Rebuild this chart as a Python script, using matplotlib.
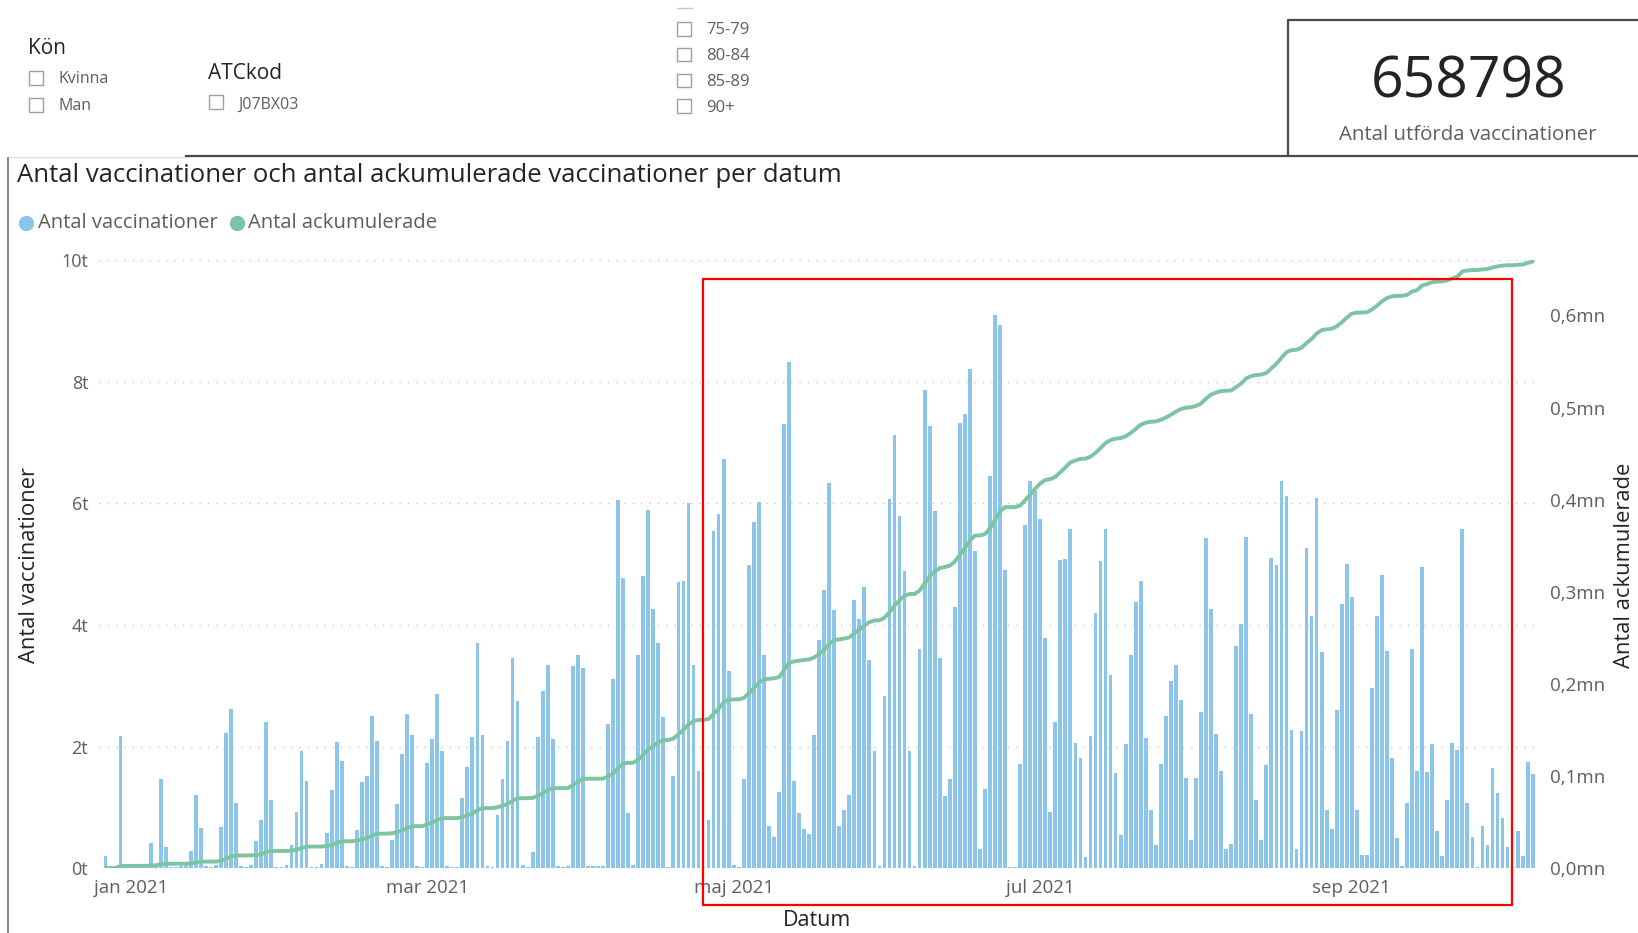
import numpy as np
import pandas as pd
import matplotlib
matplotlib.use('Agg')
import matplotlib.pyplot as plt
from matplotlib.lines import Line2D
from matplotlib.patches import Rectangle

plt.rcParams['font.family'] = ['Open Sans', 'DejaVu Sans']

# Daily vaccinations (thousands), one list per month
dec_2020 = [0.20, 0.02, 0.02, 2.17, 0.03]
jan_2021 = [0.03, 0.02, 0.02, 0.05, 0.42, 0.05, 1.46, 0.35, 0.02, 0.02, 0.03, 0.05, 0.28, 1.20, 0.66,
            0.03, 0.02, 0.05, 0.68, 2.22, 2.62, 1.07, 0.03, 0.02, 0.05, 0.44, 0.80, 2.40, 1.13, 0.02, 0.02]
feb_2021 = [0.05, 0.38, 0.93, 1.92, 1.44, 0.02, 0.02, 0.07, 0.58, 1.28, 2.08, 1.77, 0.03, 0.02,
            0.63, 1.42, 1.51, 2.51, 2.10, 0.03, 0.02, 0.47, 1.05, 1.88, 2.54, 2.19, 0.03, 0.02]
mar_2021 = [1.73, 2.13, 2.86, 1.92, 0.04, 0.02, 0.02, 1.15, 1.66, 2.16, 3.70, 2.19, 0.04, 0.02, 0.87,
            1.47, 2.10, 3.45, 2.75, 0.06, 0.02, 0.26, 2.15, 2.92, 3.35, 2.13, 0.03, 0.02, 0.04, 3.32, 3.50]
apr_2021 = [3.30, 0.04, 0.03, 0.03, 0.04, 2.37, 3.11, 6.05, 4.77, 0.91, 0.06, 3.50, 4.80, 5.89, 4.26,
            3.70, 2.48, 0.02, 1.52, 4.70, 4.72, 6.01, 3.34, 1.60, 0.02, 0.80, 5.54, 5.83, 6.73, 3.24]
may_2021 = [0.06, 0.02, 1.46, 4.99, 5.69, 6.03, 3.50, 0.69, 0.51, 1.25, 7.30, 8.32, 1.44, 0.91, 0.64,
            0.57, 2.19, 3.75, 4.58, 6.33, 4.24, 0.69, 0.95, 1.20, 4.41, 4.10, 4.63, 3.43, 1.92, 0.03, 2.84]
jun_2021 = [6.07, 7.13, 5.79, 4.88, 1.93, 0.04, 3.61, 7.86, 7.27, 5.87, 3.46, 1.18, 1.46, 4.30, 7.33,
            7.47, 8.21, 5.21, 0.31, 1.31, 6.45, 9.10, 8.93, 4.90, 0.02, 0.02, 1.71, 5.65, 6.36, 6.21]
jul_2021 = [5.74, 3.79, 0.93, 2.41, 5.07, 5.09, 5.58, 2.06, 1.81, 0.18, 2.17, 4.19, 5.05, 5.58, 3.17,
            1.57, 0.55, 2.04, 3.51, 4.37, 4.72, 2.14, 0.96, 0.38, 1.71, 2.51, 3.08, 3.35, 2.77, 1.48, 0.47]
aug_2021 = [1.48, 2.57, 5.43, 4.26, 2.21, 1.60, 0.31, 0.40, 3.66, 4.02, 5.45, 2.54, 1.13, 0.46, 1.69,
            5.10, 4.99, 6.36, 6.12, 2.27, 0.31, 2.26, 5.26, 4.15, 6.09, 3.55, 0.95, 0.64, 2.61, 4.34, 5.01]
sep_2021 = [4.46, 0.96, 0.22, 0.22, 2.97, 4.15, 4.82, 3.57, 1.82, 0.50, 0.03, 1.08, 3.61, 1.60, 4.96,
            1.59, 2.04, 0.62, 0.20, 1.13, 2.06, 1.95, 5.58, 1.08, 0.51, 0.02, 0.69, 0.38, 1.64, 1.24]
oct_2021 = [0.82, 0.35, 0.02, 0.62, 0.20, 1.75, 1.55]

start_date = '2020-12-27'
left_ticks = [0, 2000, 4000, 6000, 8000, 10000]
left_labels = ['0t', '2t', '4t', '6t', '8t', '10t']
right_ticks = [0, 100000, 200000, 300000, 400000, 500000, 600000]
right_labels = ['0,0mn', '0,1mn', '0,2mn', '0,3mn', '0,4mn', '0,5mn', '0,6mn']
month_ticks = ['2021-01-01', '2021-03-01', '2021-05-01', '2021-07-01', '2021-09-01']
month_labels = ['jan 2021', 'mar 2021', 'maj 2021', 'jul 2021', 'sep 2021']
total_text = '658798'

daily = np.array(dec_2020 + jan_2021 + feb_2021 + mar_2021 + apr_2021 + may_2021 + jun_2021
                 + jul_2021 + aug_2021 + sep_2021 + oct_2021) * 1000
cumulative = np.cumsum(daily)
dates = pd.date_range(start_date, periods=len(daily), freq='D')

BAR = '#8BC5EA'
LINE = '#7DC4A3'
DARK = '#252423'
GREY = '#605E5C'

W, H = 1568, 893  # coordinates below are measured on the reference


def fx(x):
    return x / W


def fy(y):
    return 1 - y / H


fig = plt.figure(figsize=(16.38, 9.33), dpi=100)
fig.patch.set_facecolor('white')

# ---- slicers ----
def checkbox(x, y):
    fig.add_artist(Rectangle((fx(x), fy(y + 13)), 13 / W, 13 / H, transform=fig.transFigure,
                             fill=False, edgecolor='#A19F9D', lw=1))

fig.text(fx(27), fy(46), 'Kön', fontsize=15, color=DARK, va='center')
checkbox(28, 68)
fig.text(fx(56), fy(76), 'Kvinna', fontsize=11.5, color=GREY, va='center')
checkbox(28, 94)
fig.text(fx(56), fy(101), 'Man', fontsize=11.5, color=GREY, va='center')

fig.text(fx(199), fy(70), 'ATCkod', fontsize=15, color=DARK, va='center')
checkbox(200, 91)
fig.text(fx(228), fy(100), 'J07BX03', fontsize=11.5, color=GREY, va='center')

fig.add_artist(Line2D([fx(648), fx(662)], [fy(8), fy(8)], color='#C8C6C4', lw=1,
                      transform=fig.transFigure))
for i, age in enumerate(['75-79', '80-84', '85-89', '90+']):
    y0 = 21 + i * 24.7
    checkbox(648, y0)
    fig.text(fx(676), fy(y0 + 8), age, fontsize=12, color=GREY, va='center')

# ---- KPI card ----
fig.add_artist(Line2D([fx(1233), fx(1233), fx(1575)], [fy(148), fy(19), fy(19)], color='#4A4A4A',
                      lw=1.6, transform=fig.transFigure))
fig.text(fx(1406), fy(79), total_text, fontsize=41, color=DARK, ha='center', va='center')
fig.text(fx(1405), fy(129), 'Antal utförda vaccinationer', fontsize=14.7, color=GREY,
         ha='center', va='center')

# separator lines / visual frame
fig.add_artist(Line2D([fx(8), fx(180)], [fy(150), fy(150)], color='#E1DFDD', lw=1,
                      transform=fig.transFigure))
fig.add_artist(Line2D([fx(178), fx(1575)], [fy(149), fy(149)], color='#4A4A4A', lw=1.6,
                      transform=fig.transFigure))
fig.add_artist(Line2D([fx(8), fx(8)], [fy(151), fy(900)], color='#6E6E6E', lw=1.2,
                      transform=fig.transFigure))

# ---- chart title and legend ----
fig.text(fx(16), fy(168), 'Antal vaccinationer och antal ackumulerade vaccinationer per datum',
         fontsize=18.5, color=DARK, va='center')
fig.add_artist(Line2D([fx(25)], [fy(213)], marker='o', ms=10, color=BAR, lw=0,
                      transform=fig.transFigure))
fig.text(fx(36), fy(213), 'Antal vaccinationer', fontsize=14.6, color=GREY, va='center')
fig.add_artist(Line2D([fx(227)], [fy(213)], marker='o', ms=10, color=LINE, lw=0,
                      transform=fig.transFigure))
fig.text(fx(237), fy(213), 'Antal ackumulerade', fontsize=14.6, color=GREY, va='center')

# ---- main chart ----
ax = fig.add_axes([fx(95), fy(831), fx(1470) - fx(95), fy(249) - fy(831)])
ax.bar(dates, daily, width=0.75, color=BAR, linewidth=0, zorder=2)
ax.set_ylim(0, 10000)
ax.set_yticks(left_ticks)
ax.set_yticklabels(left_labels)
ax.set_xlim(dates[0] - pd.Timedelta(hours=30), dates[-1] + pd.Timedelta(hours=14))
ax.set_xticks(pd.to_datetime(month_ticks))
ax.set_xticklabels(month_labels)
for v in left_ticks[1:]:
    ax.axhline(v, color='#C8C6C4', lw=1, ls=(0, (1, 5)), zorder=1)
for s in ax.spines.values():
    s.set_visible(False)
ax.tick_params(axis='y', length=0, pad=8, labelsize=13, labelcolor=GREY)
ax.tick_params(axis='x', length=0, pad=8, labelsize=13.5, labelcolor=GREY)
ax.set_xlabel('Datum', fontsize=15.5, color=DARK, labelpad=9)

# axis titles placed where the reference has them
fig.text(fx(28), fy(541), 'Antal vaccinationer', fontsize=15.8, color=DARK, rotation=90,
         ha='center', va='center')
fig.text(fx(1555), fy(541), 'Antal ackumulerade', fontsize=15.8, color=DARK, rotation=90,
         ha='center', va='center')

ax2 = ax.twinx()
ax2.plot(dates, cumulative, color=LINE, lw=2.8, solid_capstyle='round', zorder=3)
ax2.set_ylim(0, 660000)
ax2.set_yticks(right_ticks)
ax2.set_yticklabels(right_labels)
for s in ax2.spines.values():
    s.set_visible(False)
ax2.tick_params(axis='y', length=0, pad=10, labelsize=13.5, labelcolor=GREY)

# red highlight box drawn on the screenshot
fig.add_artist(Rectangle((fx(673), fy(866)), (1447 - 673) / W, (866 - 267) / H,
                         transform=fig.transFigure, fill=False, edgecolor='#FF0000', lw=1.6))

fig.savefig('out.png', dpi=100, facecolor='white')
